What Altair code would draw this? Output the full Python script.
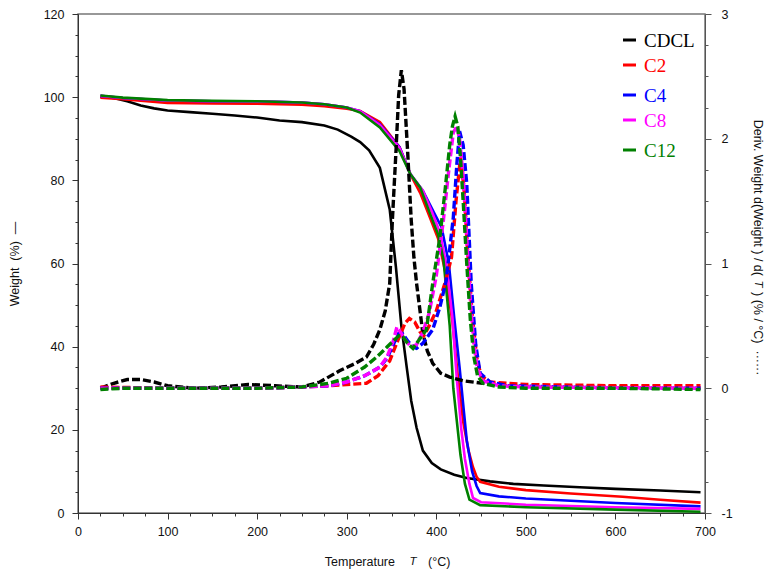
import altair as alt
import pandas as pd

names = ["CDCL", "C2", "C4", "C8", "C12"]
colors = ["#000000", "#ff0000", "#0000ff", "#ff00ff", "#008000"]

# ---- Weight (%) curves ----
w_cdcl_t = [25, 40, 55, 70, 85, 100, 125, 150, 175, 200, 225, 250, 275, 290, 305, 315, 325, 337, 348, 355, 361, 367, 372, 378, 385, 395, 405, 420, 434, 460, 486, 520, 560, 600, 650, 695]
w_cdcl = [100.1, 99.8, 99.0, 98.0, 97.3, 96.8, 96.4, 96.0, 95.6, 95.1, 94.4, 94.0, 93.2, 92.2, 90.5, 89.2, 87.2, 83.0, 73.0, 59.0, 45.0, 35.0, 27.0, 20.5, 15.0, 12.0, 10.5, 9.2, 8.4, 7.6, 7.0, 6.6, 6.2, 5.8, 5.4, 5.0]

w_c2_t = [25, 50, 100, 150, 200, 250, 275, 300, 315, 337, 359, 371, 382, 393, 402, 410, 418, 424, 430, 436, 441, 445, 449, 470, 500, 550, 608, 650, 695]
w_c2 = [99.9, 99.5, 98.6, 98.5, 98.4, 98.2, 97.8, 97.2, 96.7, 94.0, 88.0, 81.5, 77.0, 71.0, 66.0, 58.0, 46.0, 33.0, 22.0, 15.0, 11.0, 8.7, 7.5, 6.3, 5.5, 4.7, 3.9, 3.2, 2.5]

w_c4_t = [25, 50, 100, 150, 200, 250, 275, 300, 315, 337, 359, 371, 385, 398, 406, 414, 420, 426, 431, 434, 440, 445, 449, 470, 500, 600, 695]
w_c4 = [100.3, 99.8, 99.2, 99.0, 99.0, 98.7, 98.3, 97.5, 96.6, 93.5, 88.0, 81.5, 77.5, 72.0, 68.7, 60.0, 47.0, 35.0, 24.0, 17.5, 10.0, 6.5, 4.8, 4.0, 3.5, 2.4, 1.6]

w_c8_t = [25, 50, 100, 150, 200, 250, 275, 300, 315, 337, 359, 371, 385, 395, 404, 411, 418, 423, 428, 432, 437, 441, 450, 500, 600, 695]
w_c8 = [100.3, 99.8, 99.2, 99.0, 99.0, 98.7, 98.3, 97.5, 96.6, 93.3, 87.8, 81.5, 77.5, 72.5, 67.5, 60.0, 47.0, 32.0, 20.0, 13.0, 7.0, 3.6, 2.6, 2.0, 1.4, 1.0]

w_c12_t = [25, 50, 100, 150, 200, 250, 275, 300, 315, 337, 359, 371, 382, 393, 402, 408, 415, 419, 423, 427, 432, 437, 449, 500, 600, 695]
w_c12 = [100.4, 99.9, 99.3, 99.1, 99.0, 98.7, 98.3, 97.5, 96.3, 92.7, 87.0, 81.5, 78.3, 72.0, 67.0, 61.0, 45.0, 30.0, 22.0, 14.0, 7.0, 3.2, 1.9, 1.4, 0.8, 0.3]

# ---- Derivative weight curves ----
d_cdcl_t = [25, 40, 55, 70, 85, 100, 130, 160, 190, 220, 250, 270, 292, 310, 322, 330, 337, 343, 348, 351, 355, 358, 361, 364, 368, 372, 375, 378, 385, 390, 396, 405, 415, 430, 452, 480, 520, 600, 695]
d_cdcl = [0.0, 0.04, 0.07, 0.07, 0.05, 0.02, 0.0, 0.01, 0.03, 0.02, 0.01, 0.05, 0.14, 0.2, 0.25, 0.35, 0.47, 0.62, 0.84, 1.35, 1.9, 2.35, 2.55, 2.4, 1.9, 1.35, 1.05, 0.84, 0.44, 0.3, 0.2, 0.12, 0.09, 0.06, 0.04, 0.02, 0.01, 0.01, 0.0]

d_c2_t = [25, 100, 200, 250, 280, 300, 322, 335, 348, 358, 365, 370, 376, 382, 386, 392, 400, 410, 417, 422, 427, 431, 435, 440, 445, 450, 460, 500, 600, 695]
d_c2 = [0.01, 0.0, 0.0, 0.01, 0.02, 0.03, 0.04, 0.1, 0.22, 0.4, 0.52, 0.56, 0.53, 0.45, 0.42, 0.5, 0.62, 0.85, 1.05, 1.5, 1.85, 1.6, 1.1, 0.6, 0.25, 0.1, 0.05, 0.03, 0.02, 0.02]

d_c4_t = [25, 100, 200, 250, 280, 300, 320, 337, 345, 352, 358, 362, 368, 374, 378, 385, 396, 404, 411, 419, 423, 426, 430, 434, 439, 444, 449, 460, 480, 600, 695]
d_c4 = [0.0, 0.0, 0.0, 0.01, 0.02, 0.05, 0.1, 0.17, 0.24, 0.35, 0.44, 0.44, 0.38, 0.33, 0.32, 0.36, 0.47, 0.65, 0.86, 1.37, 1.8, 2.06, 1.95, 1.64, 0.84, 0.35, 0.12, 0.05, 0.02, 0.0, 0.0]

d_c8_t = [25, 100, 200, 250, 280, 300, 320, 337, 345, 352, 356, 360, 366, 372, 378, 385, 392, 400, 408, 414, 419, 423, 426, 430, 434, 438, 442, 446, 452, 470, 500, 695]
d_c8 = [0.0, 0.0, 0.0, 0.01, 0.02, 0.05, 0.1, 0.17, 0.25, 0.38, 0.49, 0.45, 0.38, 0.33, 0.35, 0.45, 0.6, 0.9, 1.35, 1.75, 2.05, 2.1, 2.0, 1.7, 1.2, 0.7, 0.35, 0.15, 0.06, 0.02, 0.01, 0.0]

d_c12_t = [25, 50, 100, 150, 200, 250, 280, 300, 320, 335, 345, 352, 358, 363, 368, 374, 382, 389, 396, 404, 410, 415, 418, 421, 424, 427, 430, 434, 438, 442, 446, 452, 470, 500, 600, 695]
d_c12 = [-0.01, 0.0, 0.0, 0.0, 0.0, 0.01, 0.04, 0.08, 0.17, 0.26, 0.33, 0.38, 0.42, 0.41, 0.36, 0.32, 0.4, 0.47, 0.84, 1.21, 1.6, 1.95, 2.1, 2.18, 2.1, 1.85, 1.5, 1.0, 0.55, 0.25, 0.1, 0.04, 0.01, 0.0, 0.0, -0.01]

# ---- axis ticks and titles ----
x_major = list(range(0, 701, 100))
x_minor = [v for v in range(0, 701, 25) if v % 100]
yl_major = list(range(0, 121, 20))
yl_minor = [v for v in range(0, 121, 5) if v % 20]
yr_major = [-1, 0, 1, 2, 3]
yr_minor = [-1 + 0.25 * i for i in range(17) if i % 4]

x_title_parts = ["Temperature", "T", "(°C)"]
yr_title_parts = ["Deriv. Weight d(Weight ) / d(", "T", ") (% / °C) \u00a0······"]
yl_title = "Weight\u00a0\u00a0(%)\u00a0\u00a0—"

w_sets = [(w_cdcl_t, w_cdcl), (w_c2_t, w_c2), (w_c4_t, w_c4), (w_c8_t, w_c8), (w_c12_t, w_c12)]
d_sets = [(d_cdcl_t, d_cdcl), (d_c2_t, d_c2), (d_c4_t, d_c4), (d_c8_t, d_c8), (d_c12_t, d_c12)]

color_scale = alt.Scale(domain=names, range=colors)
x_scale = alt.Scale(domain=[0, 700], nice=False, zero=False)
yl_scale = alt.Scale(domain=[0, 120], nice=False, zero=False)
yr_scale = alt.Scale(domain=[-1, 3], nice=False, zero=False)

FONT = "Liberation Sans"
AX = "#333333"
TXT = "#111111"
FS = 12.5
common = dict(grid=False, labelColor=TXT, titleColor=TXT, labelFont=FONT, titleFont=FONT,
              labelFontSize=FS, titleFontSize=FS, titleFontWeight="normal", labelFlush=False)

x_axis = alt.Axis(values=x_major, tickSize=6, title=None, orient="bottom",
                  domainColor=AX, tickColor=AX, labelPadding=6, **common)
x_axis_minor = alt.Axis(values=x_minor, tickSize=3, labels=False, domain=False, title=None,
                        orient="bottom", tickColor=AX, grid=False)
yl_axis = alt.Axis(values=yl_major, tickSize=6, title=yl_title, orient="left",
                   domainColor=AX, tickColor=AX, labelPadding=8, titlePadding=22, **common)
yl_axis_minor = alt.Axis(values=yl_minor, tickSize=3, labels=False, domain=False, title=None,
                         orient="left", tickColor=AX, grid=False)
yr_axis = alt.Axis(values=yr_major, format="d", labelExpr="replace(datum.label, '−', '-')",
                   tickSize=6, title=None, orient="right",
                   domainColor="#555555", tickColor="#555555", labelPadding=10, **common)
yr_axis_minor = alt.Axis(values=yr_minor, tickSize=3, labels=False, domain=False, title=None,
                         orient="right", tickColor="#555555", grid=False)

def pick(i, major, minor):
    return major if i == 0 else (minor if i == 1 else None)

layers = []
for i, (n, (ts, vs)) in enumerate(zip(names, w_sets)):
    df = pd.DataFrame({"T": ts, "W": vs, "series": n})
    layers.append(
        alt.Chart(df).mark_line(strokeWidth=2.6).encode(
            x=alt.X("T:Q", scale=x_scale, axis=pick(i, x_axis, x_axis_minor)),
            y=alt.Y("W:Q", scale=yl_scale, axis=pick(i, yl_axis, yl_axis_minor)),
            color=alt.Color("series:N", scale=color_scale, legend=None),
        )
    )

for i, (n, (ts, vs)) in enumerate(zip(names, d_sets)):
    df = pd.DataFrame({"T": ts, "D": vs, "series": n})
    layers.append(
        alt.Chart(df).mark_line(strokeWidth=3.4, strokeDash=[8, 3]).encode(
            x=alt.X("T:Q", scale=x_scale, axis=None),
            y=alt.Y("D:Q", scale=yr_scale, axis=pick(i, yr_axis, yr_axis_minor)),
            color=alt.Color("series:N", scale=color_scale, legend=None),
        )
    )

# ---- manual legend (coloured labels, as in the original) ----
leg_rows_y = [26, 51, 81, 106, 136]
for n, c, yy in zip(names, colors, leg_rows_y):
    ldf = pd.DataFrame({"series": [n]})
    layers.append(alt.Chart(ldf).mark_rule(strokeWidth=3, color=c).encode(
        x=alt.value(545), x2=alt.value(558), y=alt.value(yy)))
    layers.append(alt.Chart(ldf).mark_text(
        align="left", baseline="middle", font="Liberation Serif", fontSize=19, color=c
    ).encode(x=alt.value(566), y=alt.value(yy + 1), text="series:N"))

# ---- axis titles with an italic T ----
def title_text(label, x, y, align, italic=False, angle=0):
    tdf = pd.DataFrame({"t": [label]})
    return alt.Chart(tdf).mark_text(
        align=align, baseline="middle", font=FONT, fontSize=FS if not italic else FS - 1,
        fontStyle="italic" if italic else "normal", color=TXT, angle=angle,
    ).encode(x=alt.value(x), y=alt.value(y), text="t:N")

layers.append(title_text(x_title_parts[0], 317, 548, "right"))
layers.append(title_text(x_title_parts[1], 335, 548, "center", italic=True))
layers.append(title_text(x_title_parts[2], 350, 548, "left"))

layers.append(title_text(yr_title_parts[0], 680, 262, "right", angle=90))
layers.append(title_text(yr_title_parts[1], 680, 270, "center", italic=True, angle=90))
layers.append(title_text(yr_title_parts[2], 680, 278, "left", angle=90))

chart = alt.layer(*layers).resolve_scale(y="independent").resolve_axis(
    x="independent", y="independent"
).properties(
    width=627, height=499,
    padding={"left": 70, "top": 6, "right": 67, "bottom": 60},
    autosize=alt.AutoSizeParams(type="none"),
    background="white",
).configure_view(stroke="#777777", strokeWidth=1.5)

chart.save("out.html", embed_options={"renderer": "svg", "actions": False})
